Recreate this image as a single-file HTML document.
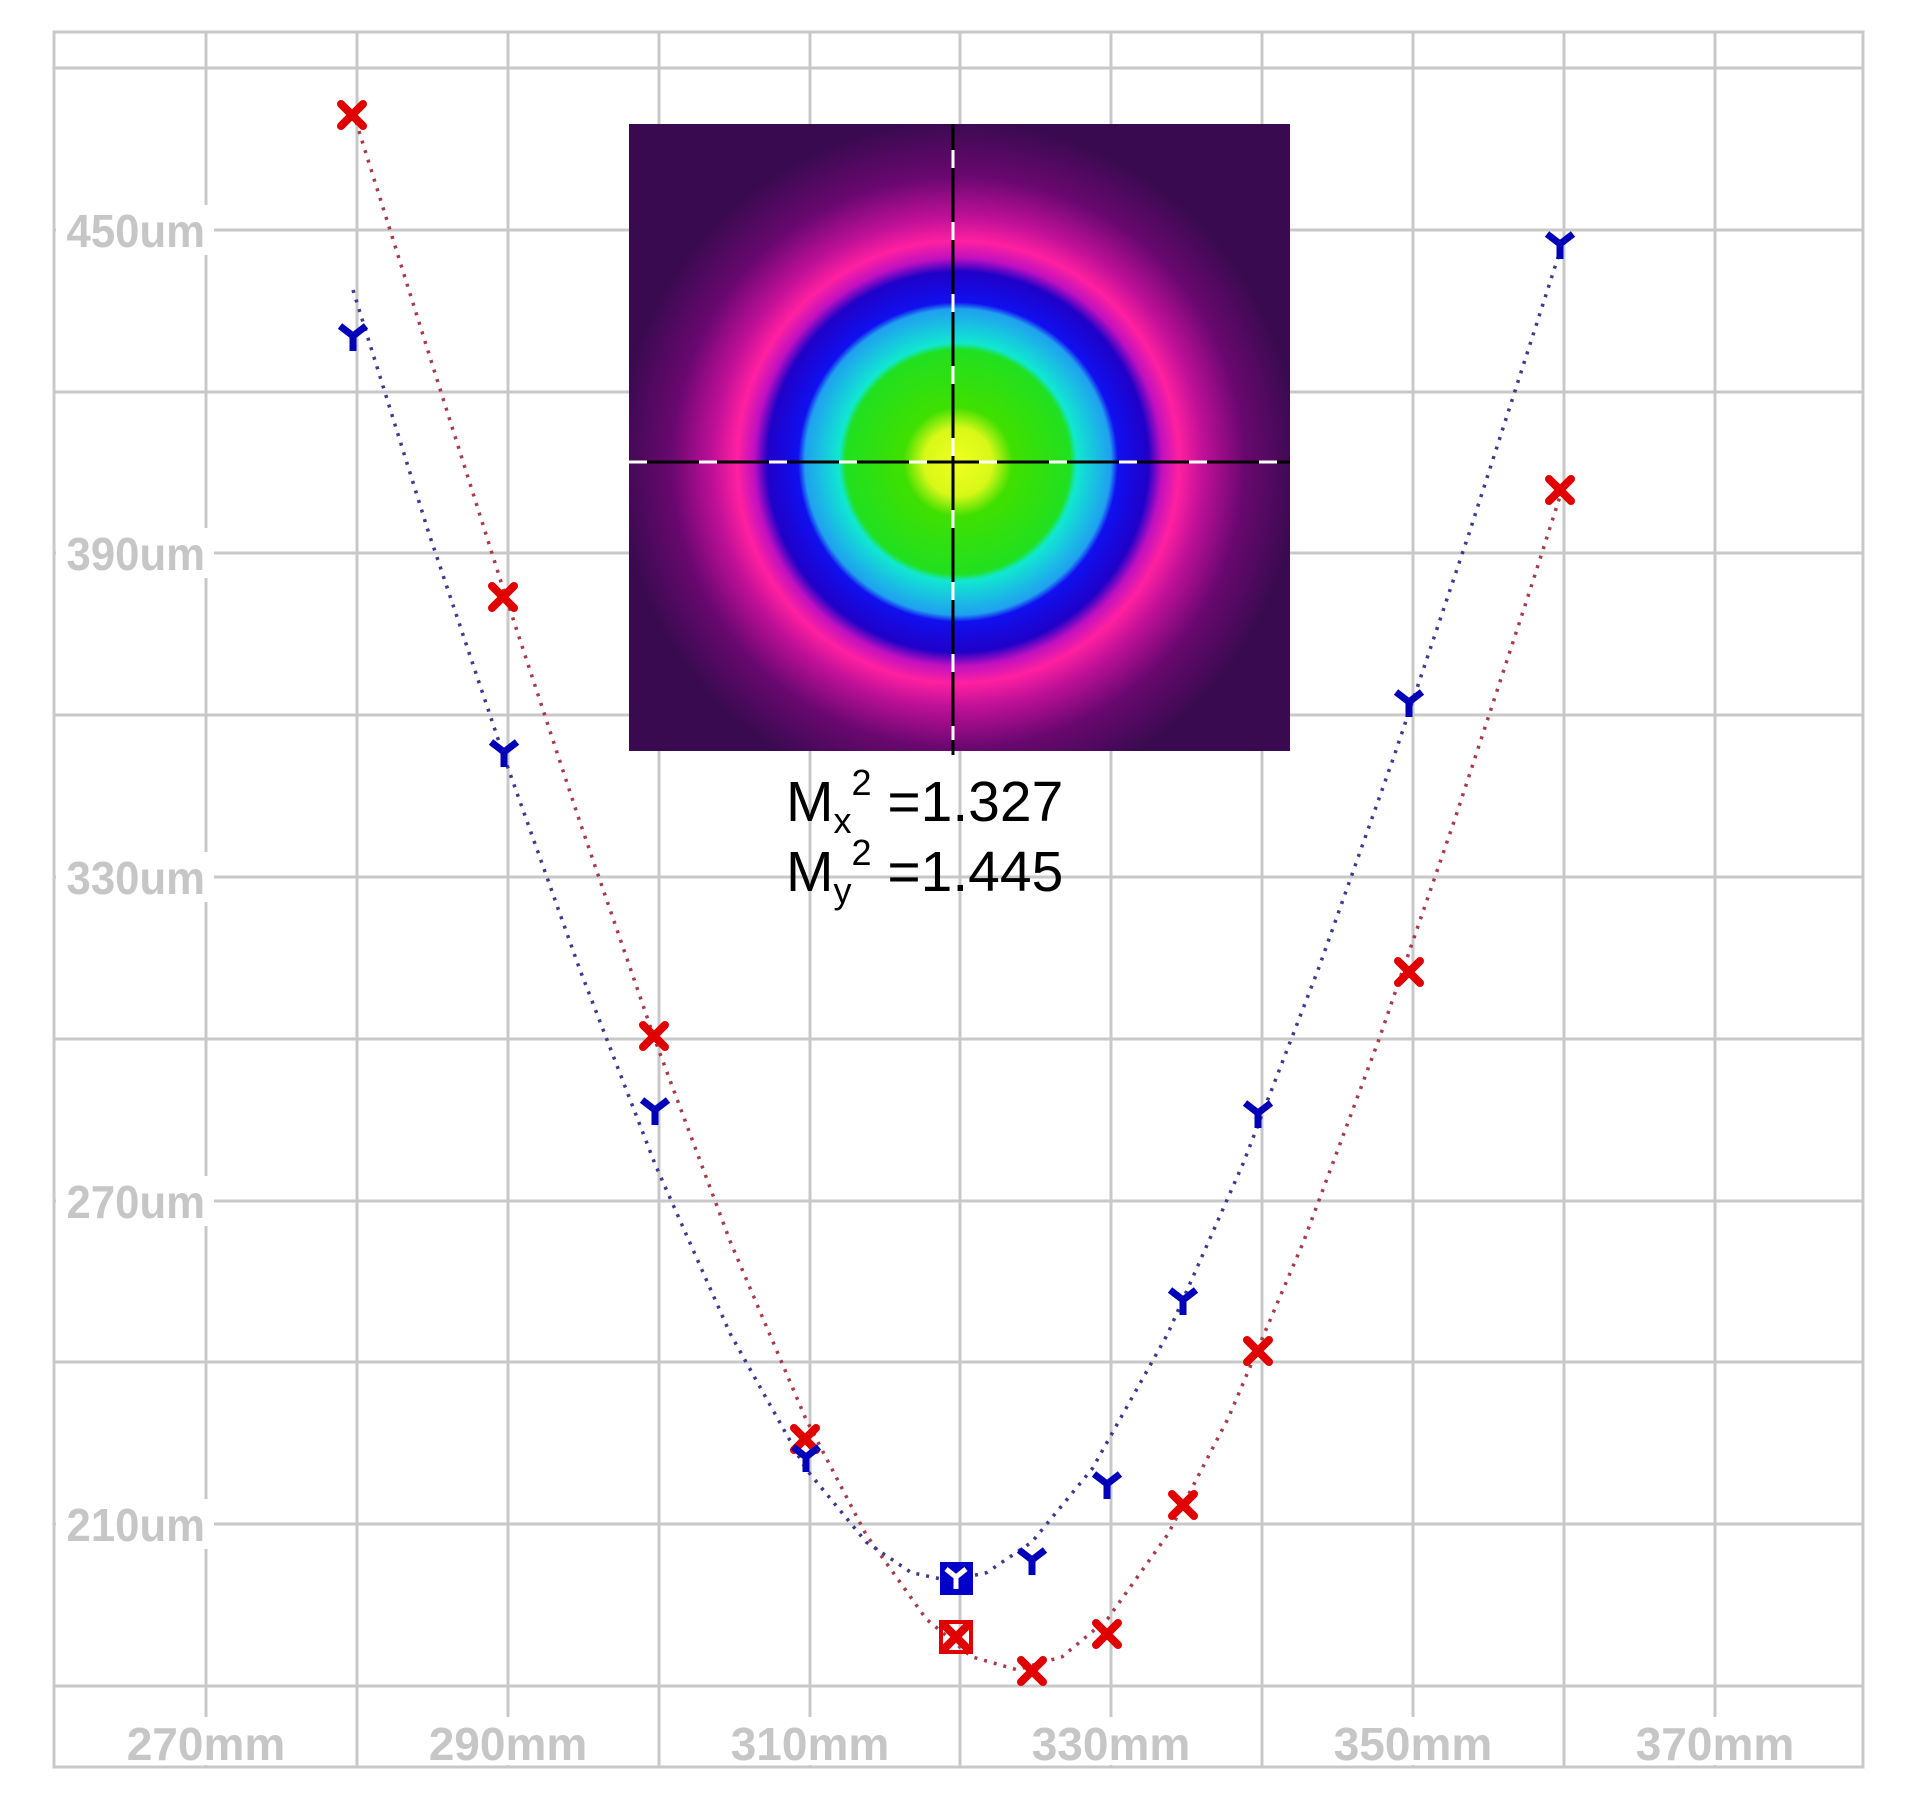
<!DOCTYPE html>
<html><head><meta charset="utf-8"><style>
html,body{margin:0;padding:0;background:#fff;}
svg{display:block;}
.lab{font-family:"Liberation Sans",sans-serif;font-weight:bold;font-size:46px;fill:#c6c6c6;}
.m{font-family:"Liberation Sans",sans-serif;font-size:57px;fill:#000;}
</style></head><body>
<svg width="1919" height="1808" viewBox="0 0 1919 1808" xmlns="http://www.w3.org/2000/svg">
<defs>
<radialGradient id="beam" cx="958" cy="462" r="340" gradientUnits="userSpaceOnUse">
<stop offset="0" stop-color="#f0ff20"/>
<stop offset="0.10" stop-color="#d8f818"/>
<stop offset="0.16" stop-color="#40e000"/>
<stop offset="0.33" stop-color="#20e020"/>
<stop offset="0.35" stop-color="#10e8d0"/>
<stop offset="0.45" stop-color="#20a0f0"/>
<stop offset="0.47" stop-color="#1010f0"/>
<stop offset="0.56" stop-color="#2000c8"/>
<stop offset="0.60" stop-color="#c010c0"/>
<stop offset="0.65" stop-color="#ff20a0"/>
<stop offset="0.72" stop-color="#c01098"/>
<stop offset="0.84" stop-color="#6a0870"/>
<stop offset="1" stop-color="#3a0a50"/>
</radialGradient>
</defs>
<rect x="0" y="0" width="1919" height="1808" fill="#fff"/>
<g stroke="#c8c8c8" stroke-width="3" fill="none">
<rect x="54" y="32" width="1809" height="1735"/>
<line x1="54" y1="68" x2="1863" y2="68"/>
<line x1="54" y1="230" x2="1863" y2="230"/>
<line x1="54" y1="392" x2="1863" y2="392"/>
<line x1="54" y1="553" x2="1863" y2="553"/>
<line x1="54" y1="715" x2="1863" y2="715"/>
<line x1="54" y1="877" x2="1863" y2="877"/>
<line x1="54" y1="1039" x2="1863" y2="1039"/>
<line x1="54" y1="1201" x2="1863" y2="1201"/>
<line x1="54" y1="1362" x2="1863" y2="1362"/>
<line x1="54" y1="1524" x2="1863" y2="1524"/>
<line x1="54" y1="1686" x2="1863" y2="1686"/>
<line x1="206" y1="32" x2="206" y2="1767"/>
<line x1="357" y1="32" x2="357" y2="1767"/>
<line x1="508" y1="32" x2="508" y2="1767"/>
<line x1="659" y1="32" x2="659" y2="1767"/>
<line x1="810" y1="32" x2="810" y2="1767"/>
<line x1="960" y1="32" x2="960" y2="1767"/>
<line x1="1111" y1="32" x2="1111" y2="1767"/>
<line x1="1262" y1="32" x2="1262" y2="1767"/>
<line x1="1413" y1="32" x2="1413" y2="1767"/>
<line x1="1564" y1="32" x2="1564" y2="1767"/>
<line x1="1715" y1="32" x2="1715" y2="1767"/>
</g>
<g fill="#fff">
<rect x="56" y="205" width="158" height="50"/>
<rect x="56" y="528" width="158" height="50"/>
<rect x="56" y="852" width="158" height="50"/>
<rect x="56" y="1176" width="158" height="50"/>
<rect x="56" y="1499" width="158" height="50"/>
<rect x="126" y="1717" width="160" height="48"/>
<rect x="428" y="1717" width="160" height="48"/>
<rect x="730" y="1717" width="160" height="48"/>
<rect x="1031" y="1717" width="160" height="48"/>
<rect x="1333" y="1717" width="160" height="48"/>
<rect x="1635" y="1717" width="160" height="48"/>
</g>
<g class="lab">
<text x="205" y="247" text-anchor="end" transform="translate(205 0) scale(0.95 1) translate(-205 0)">450um</text>
<text x="205" y="570" text-anchor="end" transform="translate(205 0) scale(0.95 1) translate(-205 0)">390um</text>
<text x="205" y="894" text-anchor="end" transform="translate(205 0) scale(0.95 1) translate(-205 0)">330um</text>
<text x="205" y="1218" text-anchor="end" transform="translate(205 0) scale(0.95 1) translate(-205 0)">270um</text>
<text x="205" y="1541" text-anchor="end" transform="translate(205 0) scale(0.95 1) translate(-205 0)">210um</text>
<text x="206" y="1760" text-anchor="middle" transform="translate(206 0) scale(1 1) translate(-206 0)">270mm</text>
<text x="508" y="1760" text-anchor="middle">290mm</text>
<text x="810" y="1760" text-anchor="middle">310mm</text>
<text x="1111" y="1760" text-anchor="middle">330mm</text>
<text x="1413" y="1760" text-anchor="middle">350mm</text>
<text x="1715" y="1760" text-anchor="middle">370mm</text>
</g>
<rect x="629" y="124" width="661" height="627" fill="url(#beam)"/>
<line x1="953" y1="124" x2="953" y2="755" stroke="#000" stroke-width="3"/>
<line x1="629" y1="462" x2="1290" y2="462" stroke="#000" stroke-width="3"/>
<line x1="953" y1="150" x2="953" y2="740" stroke="#fff" stroke-width="3" stroke-dasharray="18 54"/>
<line x1="629" y1="462" x2="1290" y2="462" stroke="#fff" stroke-width="3" stroke-dasharray="18 52"/>
<text class="m" x="786" y="821">M<tspan font-size="36" dy="12">x</tspan><tspan font-size="36" dy="-38">2</tspan><tspan dy="26"> =1.327</tspan></text>
<text class="m" x="786" y="891">M<tspan font-size="36" dy="12">y</tspan><tspan font-size="36" dy="-38">2</tspan><tspan dy="26"> =1.445</tspan></text>
<g transform="translate(-4 0)" fill="none" stroke-width="3.5" stroke-dasharray="3 7">
<polyline stroke="#a83a4a" points="357,112 432.4,352.2 507.8,590.6 583.3,820.3 658.7,1039.3 734.2,1241.5 809.6,1418.4 870,1534.4 930.3,1619.1 975.6,1656.8 1020.9,1669.7 1066.1,1656.8 1111.4,1619.1 1171.8,1534.4 1232.1,1418.4 1307.6,1241.5 1383,1039.3 1458.5,820.3 1533.9,590.6 1564.1,496"/>
<polyline stroke="#3a3a90" points="357,290 432.4,531.8 507.8,756.1 583.3,968.1 658.7,1163.3 734.2,1333.7 809.6,1468.5 870,1541.9 915.2,1572.6 953,1580.7 990.7,1572.6 1036,1541.9 1096.4,1468.5 1171.8,1333.7 1247.2,1163.3 1322.7,968.1 1398.1,756.1 1473.6,531.8 1564.1,251"/>
</g>
<g stroke="#e00000" stroke-width="8" stroke-linecap="round" fill="none">
<path d="M341,104l22,22m0,-22l-22,22"/>
<path d="M492,586l22,22m0,-22l-22,22"/>
<path d="M643,1025l22,22m0,-22l-22,22"/>
<path d="M794,1428l22,22m0,-22l-22,22"/>
<path d="M946,1627l20,20m0,-20l-20,20"/>
<path d="M1021,1660l22,22m0,-22l-22,22"/>
<path d="M1096,1623l22,22m0,-22l-22,22"/>
<path d="M1172,1494l22,22m0,-22l-22,22"/>
<path d="M1247,1340l22,22m0,-22l-22,22"/>
<path d="M1398,961l22,22m0,-22l-22,22"/>
<path d="M1549,479l22,22m0,-22l-22,22"/>
</g>
<rect x="941" y="1622" width="30" height="30" fill="none" stroke="#e00000" stroke-width="4"/>
<rect x="940" y="1562" width="33" height="33" fill="#0000c8"/>
<g stroke="#0000b8" stroke-width="7" fill="none">
<path d="M340,326l13,10l13,-10m-13,10v15"/>
<path d="M491,742l13,10l13,-10m-13,10v15"/>
<path d="M642,1100l13,10l13,-10m-13,10v15"/>
<path d="M793,1447l13,10l13,-10m-13,10v15"/>
<path d="M1019,1550l13,10l13,-10m-13,10v15"/>
<path d="M1094,1474l13,10l13,-10m-13,10v15"/>
<path d="M1170,1290l13,10l13,-10m-13,10v15"/>
<path d="M1245,1103l13,10l13,-10m-13,10v15"/>
<path d="M1396,692l13,10l13,-10m-13,10v15"/>
<path d="M1547,234l13,10l13,-10m-13,10v15"/>
</g>
<path d="M946,1569l10,8l10,-8m-10,8v12" stroke="#fff" stroke-width="5" fill="none"/>
</svg>
</body></html>
